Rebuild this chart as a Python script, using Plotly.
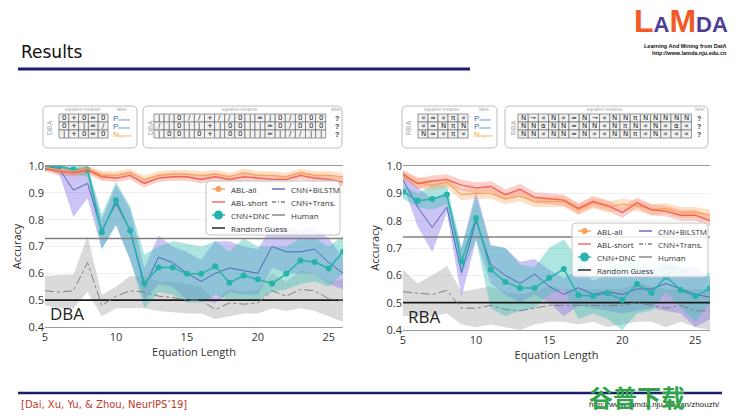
import plotly.graph_objects as go

W, H = 740, 416

# ---------------- data ----------------
lengths = list(range(5, 27))
x_ticks = [5, 10, 15, 20, 25]
y_ticks = [0.4, 0.5, 0.6, 0.7, 0.8, 0.9, 1.0]
y_tick_text = ["0.4", "0.5", "0.6", "0.7", "0.8", "0.9", "1.0"]

# DBA
dba_abl_all = [0.995, 0.985, 0.98, 0.99, 0.965, 0.965, 0.975, 0.95, 0.965, 0.97, 0.97, 0.965, 0.97, 0.96, 0.975, 0.965, 0.965, 0.96, 0.975, 0.965, 0.965, 0.96]
dba_abl_all_lo = [0.985, 0.97, 0.965, 0.975, 0.95, 0.95, 0.96, 0.935, 0.95, 0.955, 0.955, 0.95, 0.955, 0.945, 0.96, 0.95, 0.95, 0.945, 0.96, 0.95, 0.95, 0.945]
dba_abl_all_hi = [1.0, 0.995, 0.99, 1.0, 0.98, 0.98, 0.99, 0.965, 0.98, 0.985, 0.985, 0.98, 0.985, 0.975, 0.99, 0.98, 0.98, 0.975, 0.99, 0.98, 0.98, 0.975]
dba_abl_short = [0.99, 0.98, 0.975, 0.985, 0.96, 0.955, 0.965, 0.935, 0.955, 0.96, 0.96, 0.95, 0.96, 0.95, 0.96, 0.955, 0.95, 0.95, 0.965, 0.955, 0.95, 0.94]
dba_abl_short_lo = [0.98, 0.965, 0.96, 0.97, 0.945, 0.94, 0.95, 0.92, 0.94, 0.945, 0.945, 0.935, 0.945, 0.935, 0.945, 0.94, 0.935, 0.935, 0.95, 0.94, 0.935, 0.925]
dba_abl_short_hi = [1.0, 0.99, 0.99, 0.995, 0.975, 0.97, 0.98, 0.95, 0.97, 0.975, 0.975, 0.965, 0.975, 0.965, 0.975, 0.97, 0.965, 0.965, 0.98, 0.97, 0.965, 0.955]
dba_dnc = [0.995, 0.999, 0.987, 0.985, 0.753, 0.872, 0.76, 0.562, 0.622, 0.622, 0.598, 0.598, 0.626, 0.565, 0.592, 0.578, 0.562, 0.598, 0.648, 0.642, 0.618, 0.68]
dba_dnc_lo = [0.98, 0.99, 0.97, 0.96, 0.69, 0.78, 0.65, 0.47, 0.53, 0.52, 0.49, 0.49, 0.52, 0.50, 0.50, 0.50, 0.53, 0.54, 0.56, 0.57, 0.55, 0.60]
dba_dnc_hi = [1.0, 1.0, 1.0, 1.0, 0.82, 0.94, 0.85, 0.67, 0.70, 0.72, 0.71, 0.70, 0.72, 0.68, 0.73, 0.70, 0.70, 0.70, 0.73, 0.73, 0.70, 0.74]
dba_lstm = [1.0, 0.99, 0.91, 0.935, 0.76, 0.86, 0.76, 0.55, 0.66, 0.64, 0.60, 0.57, 0.60, 0.62, 0.61, 0.60, 0.70, 0.68, 0.68, 0.69, 0.64, 0.60]
dba_lstm_lo = [0.99, 0.97, 0.81, 0.88, 0.69, 0.78, 0.65, 0.50, 0.56, 0.55, 0.50, 0.50, 0.49, 0.53, 0.52, 0.52, 0.62, 0.60, 0.60, 0.60, 0.56, 0.54]
dba_lstm_hi = [1.0, 1.0, 0.99, 1.0, 0.80, 0.93, 0.84, 0.62, 0.74, 0.70, 0.68, 0.65, 0.72, 0.72, 0.70, 0.69, 0.78, 0.77, 0.76, 0.77, 0.73, 0.66]
dba_trans = [0.535, 0.53, 0.535, 0.64, 0.48, 0.515, 0.535, 0.53, 0.515, 0.51, 0.50, 0.50, 0.465, 0.49, 0.485, 0.49, 0.535, 0.515, 0.54, 0.535, 0.505, 0.50]
dba_trans_lo = [0.48, 0.47, 0.47, 0.53, 0.44, 0.47, 0.47, 0.47, 0.46, 0.455, 0.45, 0.45, 0.43, 0.44, 0.45, 0.45, 0.47, 0.46, 0.47, 0.46, 0.44, 0.42]
dba_trans_hi = [0.59, 0.595, 0.595, 0.74, 0.52, 0.55, 0.59, 0.59, 0.57, 0.57, 0.56, 0.55, 0.50, 0.54, 0.53, 0.54, 0.60, 0.57, 0.61, 0.60, 0.57, 0.58]
dba_human = 0.73

# RBA
rba_abl_all = [0.965, 0.94, 0.93, 0.94, 0.895, 0.90, 0.90, 0.88, 0.89, 0.87, 0.87, 0.87, 0.84, 0.865, 0.85, 0.86, 0.855, 0.84, 0.845, 0.83, 0.83, 0.82]
rba_abl_all_lo = [0.95, 0.92, 0.91, 0.92, 0.875, 0.88, 0.88, 0.86, 0.87, 0.85, 0.85, 0.85, 0.82, 0.845, 0.83, 0.84, 0.835, 0.82, 0.825, 0.81, 0.81, 0.80]
rba_abl_all_hi = [0.98, 0.96, 0.95, 0.96, 0.915, 0.92, 0.92, 0.90, 0.91, 0.89, 0.89, 0.89, 0.86, 0.885, 0.87, 0.88, 0.875, 0.86, 0.865, 0.85, 0.85, 0.84]
rba_abl_short = [0.97, 0.935, 0.945, 0.95, 0.93, 0.92, 0.925, 0.895, 0.915, 0.885, 0.88, 0.875, 0.845, 0.87, 0.855, 0.83, 0.865, 0.84, 0.835, 0.82, 0.82, 0.80]
rba_abl_short_lo = [0.955, 0.915, 0.925, 0.93, 0.91, 0.90, 0.905, 0.875, 0.895, 0.865, 0.86, 0.855, 0.825, 0.85, 0.835, 0.81, 0.845, 0.82, 0.815, 0.80, 0.80, 0.78]
rba_abl_short_hi = [0.985, 0.955, 0.965, 0.97, 0.95, 0.94, 0.945, 0.915, 0.935, 0.905, 0.90, 0.895, 0.865, 0.89, 0.875, 0.85, 0.885, 0.86, 0.855, 0.84, 0.84, 0.82]
rba_dnc = [0.906, 0.873, 0.879, 0.896, 0.65, 0.81, 0.62, 0.576, 0.554, 0.554, 0.59, 0.623, 0.527, 0.524, 0.534, 0.51, 0.568, 0.536, 0.595, 0.546, 0.524, 0.552]
rba_dnc_lo = [0.88, 0.85, 0.84, 0.86, 0.60, 0.73, 0.48, 0.45, 0.47, 0.48, 0.53, 0.55, 0.44, 0.46, 0.44, 0.40, 0.46, 0.47, 0.54, 0.48, 0.43, 0.50]
rba_dnc_hi = [0.93, 0.90, 0.93, 0.93, 0.70, 0.89, 0.71, 0.70, 0.64, 0.63, 0.70, 0.73, 0.66, 0.60, 0.63, 0.65, 0.66, 0.62, 0.66, 0.63, 0.60, 0.61]
rba_lstm = [0.95, 0.85, 0.775, 0.85, 0.61, 0.80, 0.64, 0.60, 0.57, 0.605, 0.56, 0.53, 0.555, 0.53, 0.54, 0.53, 0.55, 0.55, 0.57, 0.55, 0.53, 0.52]
rba_lstm_lo = [0.93, 0.78, 0.685, 0.83, 0.52, 0.73, 0.57, 0.53, 0.50, 0.53, 0.50, 0.45, 0.49, 0.48, 0.47, 0.46, 0.47, 0.48, 0.47, 0.46, 0.41, 0.44]
rba_lstm_hi = [0.98, 0.92, 0.88, 0.90, 0.70, 0.91, 0.71, 0.70, 0.65, 0.66, 0.62, 0.59, 0.62, 0.58, 0.60, 0.60, 0.63, 0.62, 0.64, 0.63, 0.63, 0.59]
rba_trans = [0.54, 0.535, 0.53, 0.545, 0.48, 0.48, 0.49, 0.475, 0.47, 0.48, 0.49, 0.49, 0.49, 0.49, 0.49, 0.49, 0.50, 0.49, 0.48, 0.49, 0.47, 0.47]
rba_trans_lo = [0.45, 0.45, 0.45, 0.46, 0.42, 0.41, 0.42, 0.41, 0.40, 0.42, 0.43, 0.43, 0.42, 0.43, 0.41, 0.42, 0.43, 0.43, 0.41, 0.43, 0.41, 0.40]
rba_trans_hi = [0.62, 0.57, 0.60, 0.635, 0.54, 0.55, 0.56, 0.54, 0.53, 0.54, 0.56, 0.55, 0.55, 0.55, 0.55, 0.55, 0.57, 0.56, 0.55, 0.55, 0.55, 0.55]
rba_human = 0.74

random_guess = 0.5

legend_col1 = ["ABL-all", "ABL-short", "CNN+DNC", "Random Guess"]
legend_col2 = ["CNN+BiLSTM", "CNN+Trans.", "Human"]

# equation instances shown above the charts
dba_train_rows = [["0", "+", "0", "=", "0"], ["0", "+", "|", "=", "/"], ["|", "+", "0", "=", "0"]]
dba_train_labels = ["Positive", "Positive", "Negative"]
dba_test_rows = [list("||0//+//0|=|0/000"), list("/|0||+|00||=0/000"), list("|00|0+|00||=|//||")]
rba_train_rows = [["∝", "≈", "∝", "π", "∝"], ["∝", "≈", "N", "π", "N"], ["N", "≈", "∝", "π", "∝"]]
rba_train_labels = ["Positive", "Positive", "Negative"]
rba_test_rows = [["N", "⊸", "∝", "N", "∝", "≈", "N", "⊸", "∝", "N", "N", "π", "N", "N", "N", "N", "N"],
                 ["N", "N", "α", "N", "N", "≈", "N", "N", "∝", "N", "π", "N", "∝", "N", "∝", "α", "∝"],
                 ["N", "N", "∝", "N", "N", "≈", "N", "∝", "∝", "N", "N", "π", "∝", "N", "∝", "∝", "∝"]]

# ---------------- style ----------------
C_ALL, B_ALL = "#f7a35c", "rgba(249,165,100,0.35)"
C_SHORT, B_SHORT = "#f0645a", "rgba(240,95,85,0.30)"
C_DNC, B_DNC = "#26b3aa", "rgba(60,192,182,0.42)"
C_LSTM, B_LSTM = "#5566b8", "rgba(128,108,228,0.40)"
C_TRANS, B_TRANS = "#808080", "rgba(150,150,150,0.35)"
C_HUMAN = "#808080"
C_RAND = "#1a1a1a"
FONT = "Open Sans"
STYLE = {
    "ABL-all": dict(color=C_ALL, dash="solid", marker=3),
    "ABL-short": dict(color=C_SHORT, dash="solid", marker=0),
    "CNN+DNC": dict(color=C_DNC, dash="solid", marker=4.5),
    "Random Guess": dict(color=C_RAND, dash="solid", marker=0),
    "CNN+BiLSTM": dict(color=C_LSTM, dash="solid", marker=0),
    "CNN+Trans.": dict(color=C_TRANS, dash="4px,2px,1px,2px", marker=0),
    "Human": dict(color=C_HUMAN, dash="solid", marker=0),
}


def px(v):
    return v / W


def py(v):
    return 1 - v / H


fig = go.Figure()


def band(xa, ya, lo, hi, color):
    fig.add_trace(go.Scatter(x=lengths + lengths[::-1], y=hi + lo[::-1], fill="toself",
                             fillcolor=color, line=dict(width=0), mode="lines",
                             showlegend=False, hoverinfo="skip", xaxis=xa, yaxis=ya))


def add_panel(xa, ya, d, human):
    band(xa, ya, d["trans_lo"], d["trans_hi"], B_TRANS)
    band(xa, ya, d["lstm_lo"], d["lstm_hi"], B_LSTM)
    band(xa, ya, d["dnc_lo"], d["dnc_hi"], B_DNC)
    band(xa, ya, d["short_lo"], d["short_hi"], B_SHORT)
    band(xa, ya, d["all_lo"], d["all_hi"], B_ALL)
    common = dict(xaxis=xa, yaxis=ya, showlegend=False)
    fig.add_trace(go.Scatter(x=[lengths[0], lengths[-1]], y=[random_guess, random_guess], mode="lines",
                             name="Random Guess", line=dict(color=C_RAND, width=1.6), **common))
    fig.add_trace(go.Scatter(x=[lengths[0], lengths[-1]], y=[human, human], mode="lines", name="Human",
                             line=dict(color=C_HUMAN, width=1.5), **common))
    fig.add_trace(go.Scatter(x=lengths, y=d["trans"], mode="lines", name="CNN+Trans.",
                             line=dict(color=C_TRANS, width=1, dash="dashdot"), **common))
    fig.add_trace(go.Scatter(x=lengths, y=d["lstm"], mode="lines", name="CNN+BiLSTM",
                             line=dict(color=C_LSTM, width=1), **common))
    fig.add_trace(go.Scatter(x=lengths, y=d["dnc"], mode="lines+markers", name="CNN+DNC",
                             line=dict(color=C_DNC, width=1.5), marker=dict(size=6, color=C_DNC), **common))
    fig.add_trace(go.Scatter(x=lengths, y=d["all"], mode="lines", name="ABL-all",
                             line=dict(color=C_ALL, width=1.2), **common))
    fig.add_trace(go.Scatter(x=lengths, y=d["short"], mode="lines", name="ABL-short",
                             line=dict(color=C_SHORT, width=1.4), **common))


dba = dict(all=dba_abl_all, all_lo=dba_abl_all_lo, all_hi=dba_abl_all_hi,
           short=dba_abl_short, short_lo=dba_abl_short_lo, short_hi=dba_abl_short_hi,
           dnc=dba_dnc, dnc_lo=dba_dnc_lo, dnc_hi=dba_dnc_hi,
           lstm=dba_lstm, lstm_lo=dba_lstm_lo, lstm_hi=dba_lstm_hi,
           trans=dba_trans, trans_lo=dba_trans_lo, trans_hi=dba_trans_hi)
rba = dict(all=rba_abl_all, all_lo=rba_abl_all_lo, all_hi=rba_abl_all_hi,
           short=rba_abl_short, short_lo=rba_abl_short_lo, short_hi=rba_abl_short_hi,
           dnc=rba_dnc, dnc_lo=rba_dnc_lo, dnc_hi=rba_dnc_hi,
           lstm=rba_lstm, lstm_lo=rba_lstm_lo, lstm_hi=rba_lstm_hi,
           trans=rba_trans, trans_lo=rba_trans_lo, trans_hi=rba_trans_hi)

add_panel("x", "y", dba, dba_human)
add_panel("x2", "y2", rba, rba_human)

xax = dict(range=[5, 26], tickvals=x_ticks, showgrid=False, showline=True, linecolor="#9a9a9a",
           linewidth=1, mirror=True, ticks="", zeroline=False, automargin=False,
           tickfont=dict(size=11, color="#333", family=FONT),
           title=dict(text="Equation Length", font=dict(size=11, color="#333", family=FONT), standoff=3))
yax = dict(range=[0.4, 1.0], tickvals=y_ticks, ticktext=y_tick_text, showgrid=True, gridcolor="#efefef",
           gridwidth=1, zeroline=False, showline=False, ticks="", automargin=False,
           tickfont=dict(size=11, color="#333", family=FONT),
           title=dict(text="Accuracy", font=dict(size=11, color="#333", family=FONT), standoff=4))

fig.update_layout(
    width=W, height=H, margin=dict(l=0, r=0, t=0, b=0, autoexpand=False),
    paper_bgcolor="white", plot_bgcolor="white", showlegend=False,
    xaxis=dict(domain=[px(45), px(343)], anchor="y", **xax),
    yaxis=dict(domain=[py(327), py(166)], anchor="x", **yax),
    xaxis2=dict(domain=[px(403), px(710)], anchor="y2", **xax),
    yaxis2=dict(domain=[py(330), py(166)], anchor="x2", **yax),
    font=dict(family=FONT),
)

shapes = []
ann = []

# slide title and rules
ann.append(dict(text="Results", x=px(19), y=py(52), xanchor="left", yanchor="middle",
                font=dict(size=17, color="#111", family="DejaVu Sans")))
shapes.append(dict(type="line", xref="paper", yref="paper", x0=px(18), x1=px(470), y0=py(69), y1=py(69),
                   line=dict(color="#1e1e6e", width=3)))
shapes.append(dict(type="line", xref="paper", yref="paper", x0=px(18), x1=px(722), y0=py(393), y1=py(393),
                   line=dict(color="#1e1e6e", width=2.5)))
ann.append(dict(text="[Dai, Xu, Yu, & Zhou, NeurIPS’19]", x=px(19), y=py(404), xanchor="left",
                yanchor="middle", font=dict(size=10, color="#c0392b", family="DejaVu Sans")))
ann.append(dict(text="http://www.lamda.nju.edu.cn/zhouzh/", x=px(722), y=py(404), xanchor="right",
                yanchor="middle", font=dict(size=8, color="#222", family="Liberation Sans")))
ann.append(dict(text="<b>谷普下载</b>", x=px(637), y=py(396), xanchor="center", yanchor="middle",
                font=dict(size=24, color="#2fa44a", family="Noto Sans CJK SC")))

# logo
ann.append(dict(text="<b><span style='color:#f15a24;font-size:32px'>L</span>"
                     "<span style='color:#4d3e95;font-size:22px'>A</span>"
                     "<span style='color:#f15a24;font-size:32px'>M</span>"
                     "<span style='color:#4d3e95;font-size:22px'>DA</span></b>",
                x=px(730), y=py(41), xanchor="right", yanchor="bottom",
                font=dict(family="Liberation Sans", size=32)))
ann.append(dict(text="<b>Learning And Mining from DatA</b>", x=px(729), y=py(46), xanchor="right",
                yanchor="middle", font=dict(size=5.5, color="#111", family="Liberation Sans")))
ann.append(dict(text="<b>http://www.lamda.nju.edu.cn</b>", x=px(729), y=py(53), xanchor="right",
                yanchor="middle", font=dict(size=5.5, color="#111", family="Liberation Sans")))


def rounded_box(x0, y0, x1, y1, r=5, color="#bdbdbd", fill=None):
    X0, X1, Y0, Y1 = px(x0), px(x1), py(y0), py(y1)
    rx, ry = r / W, r / H
    path = (f"M {X0 + rx},{Y0} L {X1 - rx},{Y0} Q {X1},{Y0} {X1},{Y0 - ry} "
            f"L {X1},{Y1 + ry} Q {X1},{Y1} {X1 - rx},{Y1} L {X0 + rx},{Y1} Q {X0},{Y1} {X0},{Y1 + ry} "
            f"L {X0},{Y0 - ry} Q {X0},{Y0} {X0 + rx},{Y0} Z")
    s = dict(type="path", xref="paper", yref="paper", path=path, line=dict(color=color, width=1))
    if fill:
        s["fillcolor"] = fill
    shapes.append(s)


def small_text(t, x, y, size=5, color="#aaa", angle=0, anchor="center"):
    ann.append(dict(text=t, x=px(x), y=py(y), xanchor=anchor, yanchor="middle", textangle=angle,
                    font=dict(size=size, color=color, family="Liberation Sans")))


def cells(rows, x0, cw, y0=114, ch=8):
    for r, row in enumerate(rows):
        for c, sym in enumerate(row):
            cx0 = x0 + c * cw
            cy0 = y0 + r * ch
            shapes.append(dict(type="rect", xref="paper", yref="paper", x0=px(cx0), x1=px(cx0 + cw),
                               y0=py(cy0), y1=py(cy0 + ch), fillcolor="#f3f3f3",
                               line=dict(color="#6a6a6a", width=0.7)))
            ann.append(dict(text=sym, x=px(cx0 + cw / 2), y=py(cy0 + ch / 2), xanchor="center",
                            yanchor="middle", font=dict(size=7, color="#222", family="DejaVu Sans")))


def labels(lbls, x, y0=114, ch=8):
    for r, lab in enumerate(lbls):
        col = "#3d6cc4" if lab.startswith("P") else "#f0a23a"
        txt = (f"<span style='font-size:8px'>{lab[0]}</span>"
               f"<span style='font-size:4px'>{lab[1:]}</span>")
        ann.append(dict(text=txt, x=px(x), y=py(y0 + r * ch + ch / 2), xanchor="left", yanchor="middle",
                        font=dict(color=col, family="Liberation Sans", size=8)))


def questions(n, x, y0=114, ch=8):
    for r in range(n):
        ann.append(dict(text="<b>?</b>", x=px(x), y=py(y0 + r * ch + ch / 2), xanchor="center",
                        yanchor="middle", font=dict(size=7, color="#333", family="Liberation Sans")))


# DBA panels
rounded_box(43, 106, 137, 148)
small_text("DBA", 49, 128, size=7, angle=-90)
small_text("equation instance", 83, 110, size=4.5)
small_text("label", 122, 110, size=4.5)
cells(dba_train_rows, 59, 9.8)
labels(dba_train_labels, 111)
rounded_box(143, 106, 342, 148)
small_text("DBA", 150, 128, size=7, angle=-90)
small_text("equation instance", 240, 110, size=4.5)
small_text("label", 336, 110, size=4.5)
cells(dba_test_rows, 154, 10.1)
questions(len(dba_test_rows), 337)

# RBA panels
rounded_box(402, 106, 497, 148)
small_text("RBA", 408, 128, size=7, angle=-90)
small_text("equation instance", 442, 110, size=4.5)
small_text("label", 484, 110, size=4.5)
cells(rba_train_rows, 418, 10)
labels(rba_train_labels, 472)
rounded_box(505, 106, 708, 148)
small_text("RBA", 513, 128, size=7, angle=-90)
small_text("equation instance", 605, 110, size=4.5)
small_text("label", 700, 110, size=4.5)
cells(rba_test_rows, 518, 10.2)
questions(len(rba_test_rows), 699)


# manual legends (two columns, as in the reference)
def legend_box(x0, y0, x1, y1, col1_x, col2_x, row_h):
    rounded_box(x0, y0, x1, y1, r=4, color="#c4c4c4", fill="rgba(255,255,255,0.85)")
    for col, cx in ((legend_col1, col1_x), (legend_col2, col2_x)):
        for i, name in enumerate(col):
            st = STYLE[name]
            yy = y0 + 8 + i * row_h
            shapes.append(dict(type="line", xref="paper", yref="paper", x0=px(cx), x1=px(cx + 13),
                               y0=py(yy), y1=py(yy), line=dict(color=st["color"], width=1.4,
                                                               dash=st["dash"])))
            if st["marker"]:
                m = st["marker"]
                shapes.append(dict(type="circle", xref="paper", yref="paper",
                                   x0=px(cx + 6.5 - m), x1=px(cx + 6.5 + m), y0=py(yy - m), y1=py(yy + m),
                                   fillcolor=st["color"], line=dict(width=0)))
            ann.append(dict(text=name, x=px(cx + 17), y=py(yy), xanchor="left", yanchor="middle",
                            font=dict(size=8, color="#333", family=FONT)))


legend_box(206, 181, 340, 235, 212, 272, 13)
legend_box(572, 223, 708, 277, 578, 639, 13)

# dataset names inside plots
for xr, yr, name in [("x domain", "y domain", "DBA"), ("x2 domain", "y2 domain", "RBA")]:
    fig.add_annotation(text=name, xref=xr, yref=yr, x=0.01, y=0.0, xanchor="left", yanchor="bottom",
                       showarrow=False, font=dict(size=17, color="#222", family=FONT))

for a in ann:
    a.setdefault("xref", "paper")
    a.setdefault("yref", "paper")
    a["showarrow"] = False
    fig.add_annotation(**a)
fig.update_layout(shapes=shapes)

# remove the default page margin so the 740x416 figure fills the window exactly
fig.write_html("out.html", config={"displayModeBar": False},
               post_script="document.body.style.margin='0';document.body.style.padding='0';"
                           "document.body.style.overflow='hidden';")
